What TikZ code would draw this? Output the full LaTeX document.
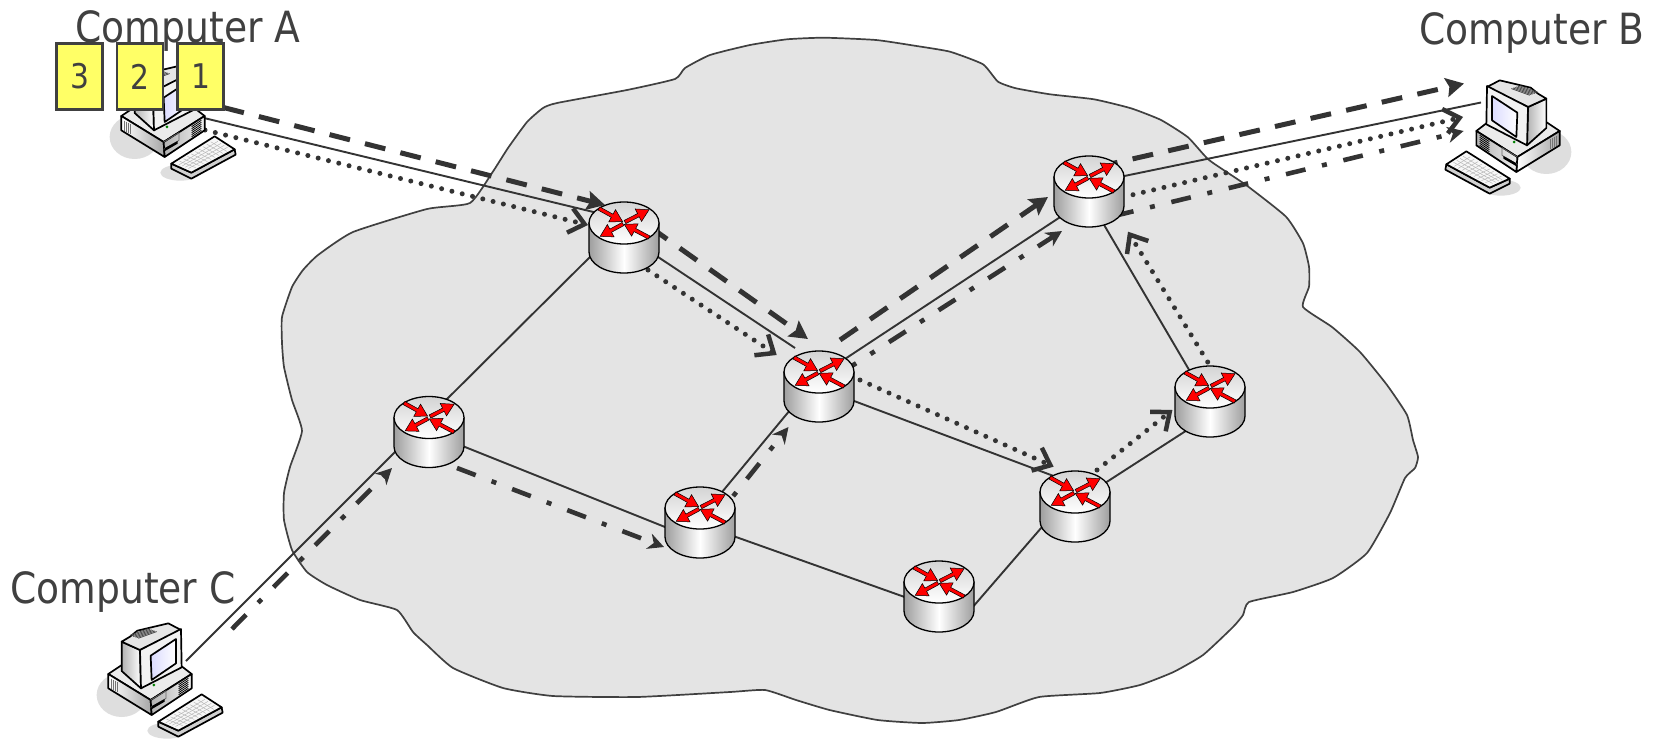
\documentclass[tikz,border=0pt]{standalone}
\usepackage{fontspec}
\setmainfont{DejaVu Sans}[FakeStretch=0.875]
\usetikzlibrary{arrows.meta,calc}
\definecolor{ink}{HTML}{333333}
\definecolor{txt}{HTML}{404040}
\definecolor{cloudgray}{HTML}{E4E4E4}
\definecolor{shadowgray}{HTML}{DEDEDE}
\definecolor{noteyellow}{HTML}{FFFF66}
\tikzset{
  routerbox/.style={inner sep=0pt,minimum width=70pt,minimum height=71pt},
  link/.style={draw=ink,line width=1.9pt},
  flowdash/.style={draw=ink,line width=5pt,dash pattern=on 21pt off 15.5pt,-{Stealth[length=18pt,width=19pt,inset=3pt]}},
  flowdot/.style={draw=ink,line width=5pt,line cap=round,dash pattern=on 0pt off 10.6pt,-{Straight Barb[length=15pt,width=25pt,line width=4.5pt]}},
  flowmix/.style={draw=ink,line width=4.6pt,dash pattern=on 20pt off 17pt on 5pt off 17pt,-{Stealth[length=16pt,width=16pt,inset=5pt]}},
  hostlabel/.style={text=txt,font=\fontsize{43}{43}\selectfont,anchor=base,inner sep=0pt},
  notebox/.style={draw=txt,fill=noteyellow,line width=2.4pt,minimum width=46pt,minimum height=66pt,inner sep=0pt,text=txt,font=\fontsize{34}{34}\selectfont},
  outline/.style={draw=black,line width=1.3pt,line join=round},
  hostline/.style={draw=black,line width=1.7pt,line join=round}
}
\newcommand{\redarr}[4]{%
  \begin{scope}[shift={(#1,#2)},rotate=#3]
    \draw[fill=red,draw=black,line width=.5pt,line join=miter]
      (0,-1.8) -- ({#4-12},-1.8) -- ({#4-12},-7) -- (#4,0) -- ({#4-12},7) -- ({#4-12},1.8) -- (0,1.8) -- cycle;
  \end{scope}}
\newcommand{\routerpic}[1]{%
  \begin{scope}[shift={($(#1)+(0,-14.5)$)}]
    \path[outline,left color=black!38,right color=black!38,middle color=white]
      (-35,0) -- (-35,29) arc[start angle=180,end angle=360,x radius=35pt,y radius=21pt] -- (35,0) -- cycle;
    \path[outline,top color=black!17,bottom color=white] (0,0) ellipse[x radius=35pt,y radius=21pt];
    \redarr{-25}{-14.5}{-29}{27}
    \redarr{1}{-1}{27}{27}
    \redarr{25}{14.5}{152}{28}
    \redarr{-1}{1}{208.5}{26}
  \end{scope}}
\newcommand{\hostpic}[3]{%
  \begin{scope}[shift={(#1,#2)},xscale=#3,x=.3333pt,y=-.3333pt]
    \fill[shadowgray] (125,285) ellipse[x radius=25pt,y radius=22pt];
    \fill[shadowgray] (262,392) ellipse[x radius=20pt,y radius=8pt];
    % base
    \path[hostline,fill=black!8] (85,222) -- (130,192) -- (300,195) -- (335,222) -- (212,300) -- cycle;
    \path[hostline,left color=white,right color=black!35] (85,222) -- (212,300) -- (215,345) -- (85,265) -- cycle;
    \path[hostline,left color=black!30,right color=black!6] (212,300) -- (335,222) -- (335,265) -- (215,345) -- cycle;
    \foreach \v in {94,100,106,112} \draw[black!55,line width=.8pt] (\v,{236+(\v-94)*.6}) -- (\v,{266+(\v-94)*.6});
    \foreach \v in {0,6,...,30} \draw[black,line width=.8pt] (296,{254+\v}) -- (325,{235+\v});
    \draw[black!60,line width=.7pt] (212,300) -- (258,272) -- (258,295) -- (212,322);
    \fill[black] (216,318) -- (254,297) -- (254,305) -- (216,327) -- cycle;
    % monitor
    \path[hostline,left color=black!30,right color=white] (125,125) -- (180,150) -- (183,265) -- (125,213) -- cycle;
    \path[hostline,fill=black!10] (125,125) -- (150,110) -- (172,92) -- (265,70) -- (303,90) -- (180,150) -- cycle;
    \foreach \v in {0,5,...,25} \draw[black!70,line width=.8pt] ({150+\v},{106+\v*.35}) -- ({205+\v},{86+\v*.35});
    \path[hostline,fill=black!5] (180,150) -- (303,87) -- (305,202) -- (183,265) -- cycle;
    \path[hostline,left color=blue!14!white,right color=white] (212,167) -- (288,117) -- (288,190) -- (215,240) -- cycle;
    \fill[green!50!black] (222,255) circle[radius=1.5pt];
    % keyboard
    \path[hostline,fill=black!18] (235,365) -- (235,380) -- (295,410) -- (428,338) -- (425,322) -- (295,392) -- cycle;
    \path[hostline,fill=black!3] (235,365) -- (365,283) -- (425,322) -- (295,392) -- cycle;
    \coordinate (k0) at (248,365); \coordinate (k1) at (365,292);
    \coordinate (k2) at (413,322); \coordinate (k3) at (296,383);
    \foreach \t in {.1,.2,...,.95} \draw[black!28,line width=.5pt] ($(k0)!\t!(k1)$) -- ($(k3)!\t!(k2)$);
    \foreach \t in {.2,.4,.6,.8} \draw[black!28,line width=.5pt] ($(k0)!\t!(k3)$) -- ($(k1)!\t!(k2)$);
  \end{scope}}
\begin{document}
\begin{tikzpicture}[x=1pt,y=-1pt]
\useasboundingbox (0,0) rectangle (1653,739);
\fill[white] (0,0) rectangle (1653,739);
% cloud
\draw[fill=cloudgray,draw=txt,line width=1.7pt,line join=round] plot[smooth cycle,tension=.3] coordinates {
(750,45)(787,39.3)(824,37.7)(876,40)(916.5,46)(950,51.7)(983,64.3)(998,81.7)(1016,88.3)(1050,94.3)(1094,99.3)(1131,108.3)(1161,120)(1188,137.3)(1209,160)(1246,185)(1286,216.7)(1303,243.3)(1309,266.7)(1309,286.7)(1303,307)
(1332,327)(1360,352)(1387,385)(1407,415)(1413,440)(1418,457)(1415,468)(1405,478)(1390,513)(1367,553)(1333,578)(1293,592)(1249,602)
(1243,615)(1233,627)(1203,655)(1173.5,672)(1140,685)(1100,693)(1039,697)(996,712)(959,720)(922,723)(877.6,720)(829.5,710)(796,700)(765,690)(730,692)
(637,697)(553,696)(503,688)(453,668)(427,645)(413,632)(397,610)(360,600)(327,585)(307,572)(292,550)(284,520)(284,493)(290,467)(302,431)(292,400)(284,367)(282,343)(282,317)(292,287)(303,270)
(318,255)(353,232)(427,209)(470,203)(492,173)(508,148)(527,122)(543,108)(557,103)(627,90)(675,79)(685,68)(710,55)};
% router placeholders (geometric centres)
\node[routerbox] (r1) at (624,237.5) {};
\node[routerbox] (r2) at (819,386.5) {};
\node[routerbox] (r3) at (429,432) {};
\node[routerbox] (r4) at (700,522.5) {};
\node[routerbox] (r5) at (939,596.5) {};
\node[routerbox] (r6) at (1075,506.5) {};
\node[routerbox] (r7) at (1210,401.5) {};
\node[routerbox] (r8) at (1089,191.5) {};
\coordinate (aport) at (204,118);
\coordinate (bport) at (1481,102.5);
\coordinate (cport) at (186,661);
% solid links
\draw[link] (aport) -- ($(r1)+(-14,-21.5)$);
\draw[link] (cport) -- ($(r3)+(-19,5)$);
\draw[link] ($(r8)+(11,-10.5)$) -- (bport);
\draw[link] ($(r1)+(16,7.5)$) -- ($(r2)+(-24,-38.5)$);
\draw[link] ($(r1)+(-24,9.5)$) -- ($(r3)+(11,-26)$);
\draw[link] ($(r3)+(21,9)$) -- ($(r4)+(-10,14.5)$);
\draw[link] ($(r4)+(10,-16)$) -- ($(r2)+(-19,11.5)$);
\draw[link] ($(r4)+(20,8.8)$) -- ($(r5)+(-24,4.2)$);
\draw[link] ($(r5)+(26,19.5)$) -- ($(r6)+(-25,11.2)$);
\draw[link] ($(r6)+(-10,-26.2)$) -- ($(r2)+(21,9.2)$);
\draw[link] ($(r6)+(20,-17)$) -- ($(r7)+(-15,23.5)$);
\draw[link] ($(r7)+(-15,-21.5)$) -- ($(r8)+(11,26.5)$);
\draw[link] ($(r2)+(11,-17.7)$) -- ($(r8)+(-14,15.8)$);
% flow 1
\coordinate (a1s) at (223.5,107.5); \coordinate (a1e) at (605,205);
\coordinate (a2s) at (650,227);     \coordinate (a2e) at (808,339);
\coordinate (a3s) at (840,340);     \coordinate (a3e) at (1048,197);
\coordinate (a4s) at (1097,167);    \coordinate (a4e) at (1464,83.5);
\draw[flowdash] (a1s) -- (a1e);
\draw[flowdash] (a2s) -- (a2e);
\draw[flowdash] (a3s) -- (a3e);
\draw[flowdash] (a4s) -- (a4e);
% flow 2
\coordinate (b1s) at (205,130);  \coordinate (b1e) at (588,225);
\coordinate (b2s) at (648,270);  \coordinate (b2e) at (776.7,355);
\coordinate (b3s) at (860,380);  \coordinate (b3e) at (1053.6,466.7);
\coordinate (b4s) at (1097,470); \coordinate (b4e) at (1172.4,410);
\coordinate (b5s) at (1207.7,362); \coordinate (b5e) at (1128,231.7);
\coordinate (b6s) at (1133,194.7); \coordinate (b6e) at (1463,117);
\draw[flowdot] (b1s) -- (b1e);
\draw[flowdot] (b2s) -- (b2e);
\draw[flowdot] (b3s) -- (b3e);
\draw[flowdot] (b4s) -- (b4e);
\draw[flowdot] (b5s) -- (b5e);
\draw[flowdot] (b6s) -- (b6e);
% flow 3
\coordinate (c1s) at (232,629);   \coordinate (c1e) at (392,468);
\coordinate (c2s) at (457,468);   \coordinate (c2e) at (664,547);
\coordinate (c3s) at (710,525);   \coordinate (c3e) at (788.5,427);
\coordinate (c4s) at (839.3,374); \coordinate (c4e) at (1062,231);
\coordinate (c5s) at (1114,216);  \coordinate (c5e) at (1463.6,131);
\draw[flowmix] (c1s) -- (c1e);
\draw[flowmix] (c2s) -- (c2e);
\draw[flowmix] (c3s) -- (c3e);
\draw[flowmix] (c4s) -- (c4e);
\draw[flowmix] (c5s) -- (c5e);
% routers
\routerpic{r1}\routerpic{r2}\routerpic{r3}\routerpic{r4}
\routerpic{r5}\routerpic{r6}\routerpic{r7}\routerpic{r8}
% labels and computers
\node[hostlabel] (labA) at (188,42) {Computer A};
\node[hostlabel] (labB) at (1532,44) {Computer B};
\node[hostlabel] (labC) at (123,603) {Computer C};
\hostpic{93}{42}{1}
\hostpic{1588}{57}{-1}
\hostpic{80}{600}{1}
\node[notebox] (n3) at (79.5,76.5) {3};
\node[notebox] (n2) at (140,76.5) {2};
\node[notebox] (n1) at (200.5,76.5) {1};
\end{tikzpicture}
\end{document}
